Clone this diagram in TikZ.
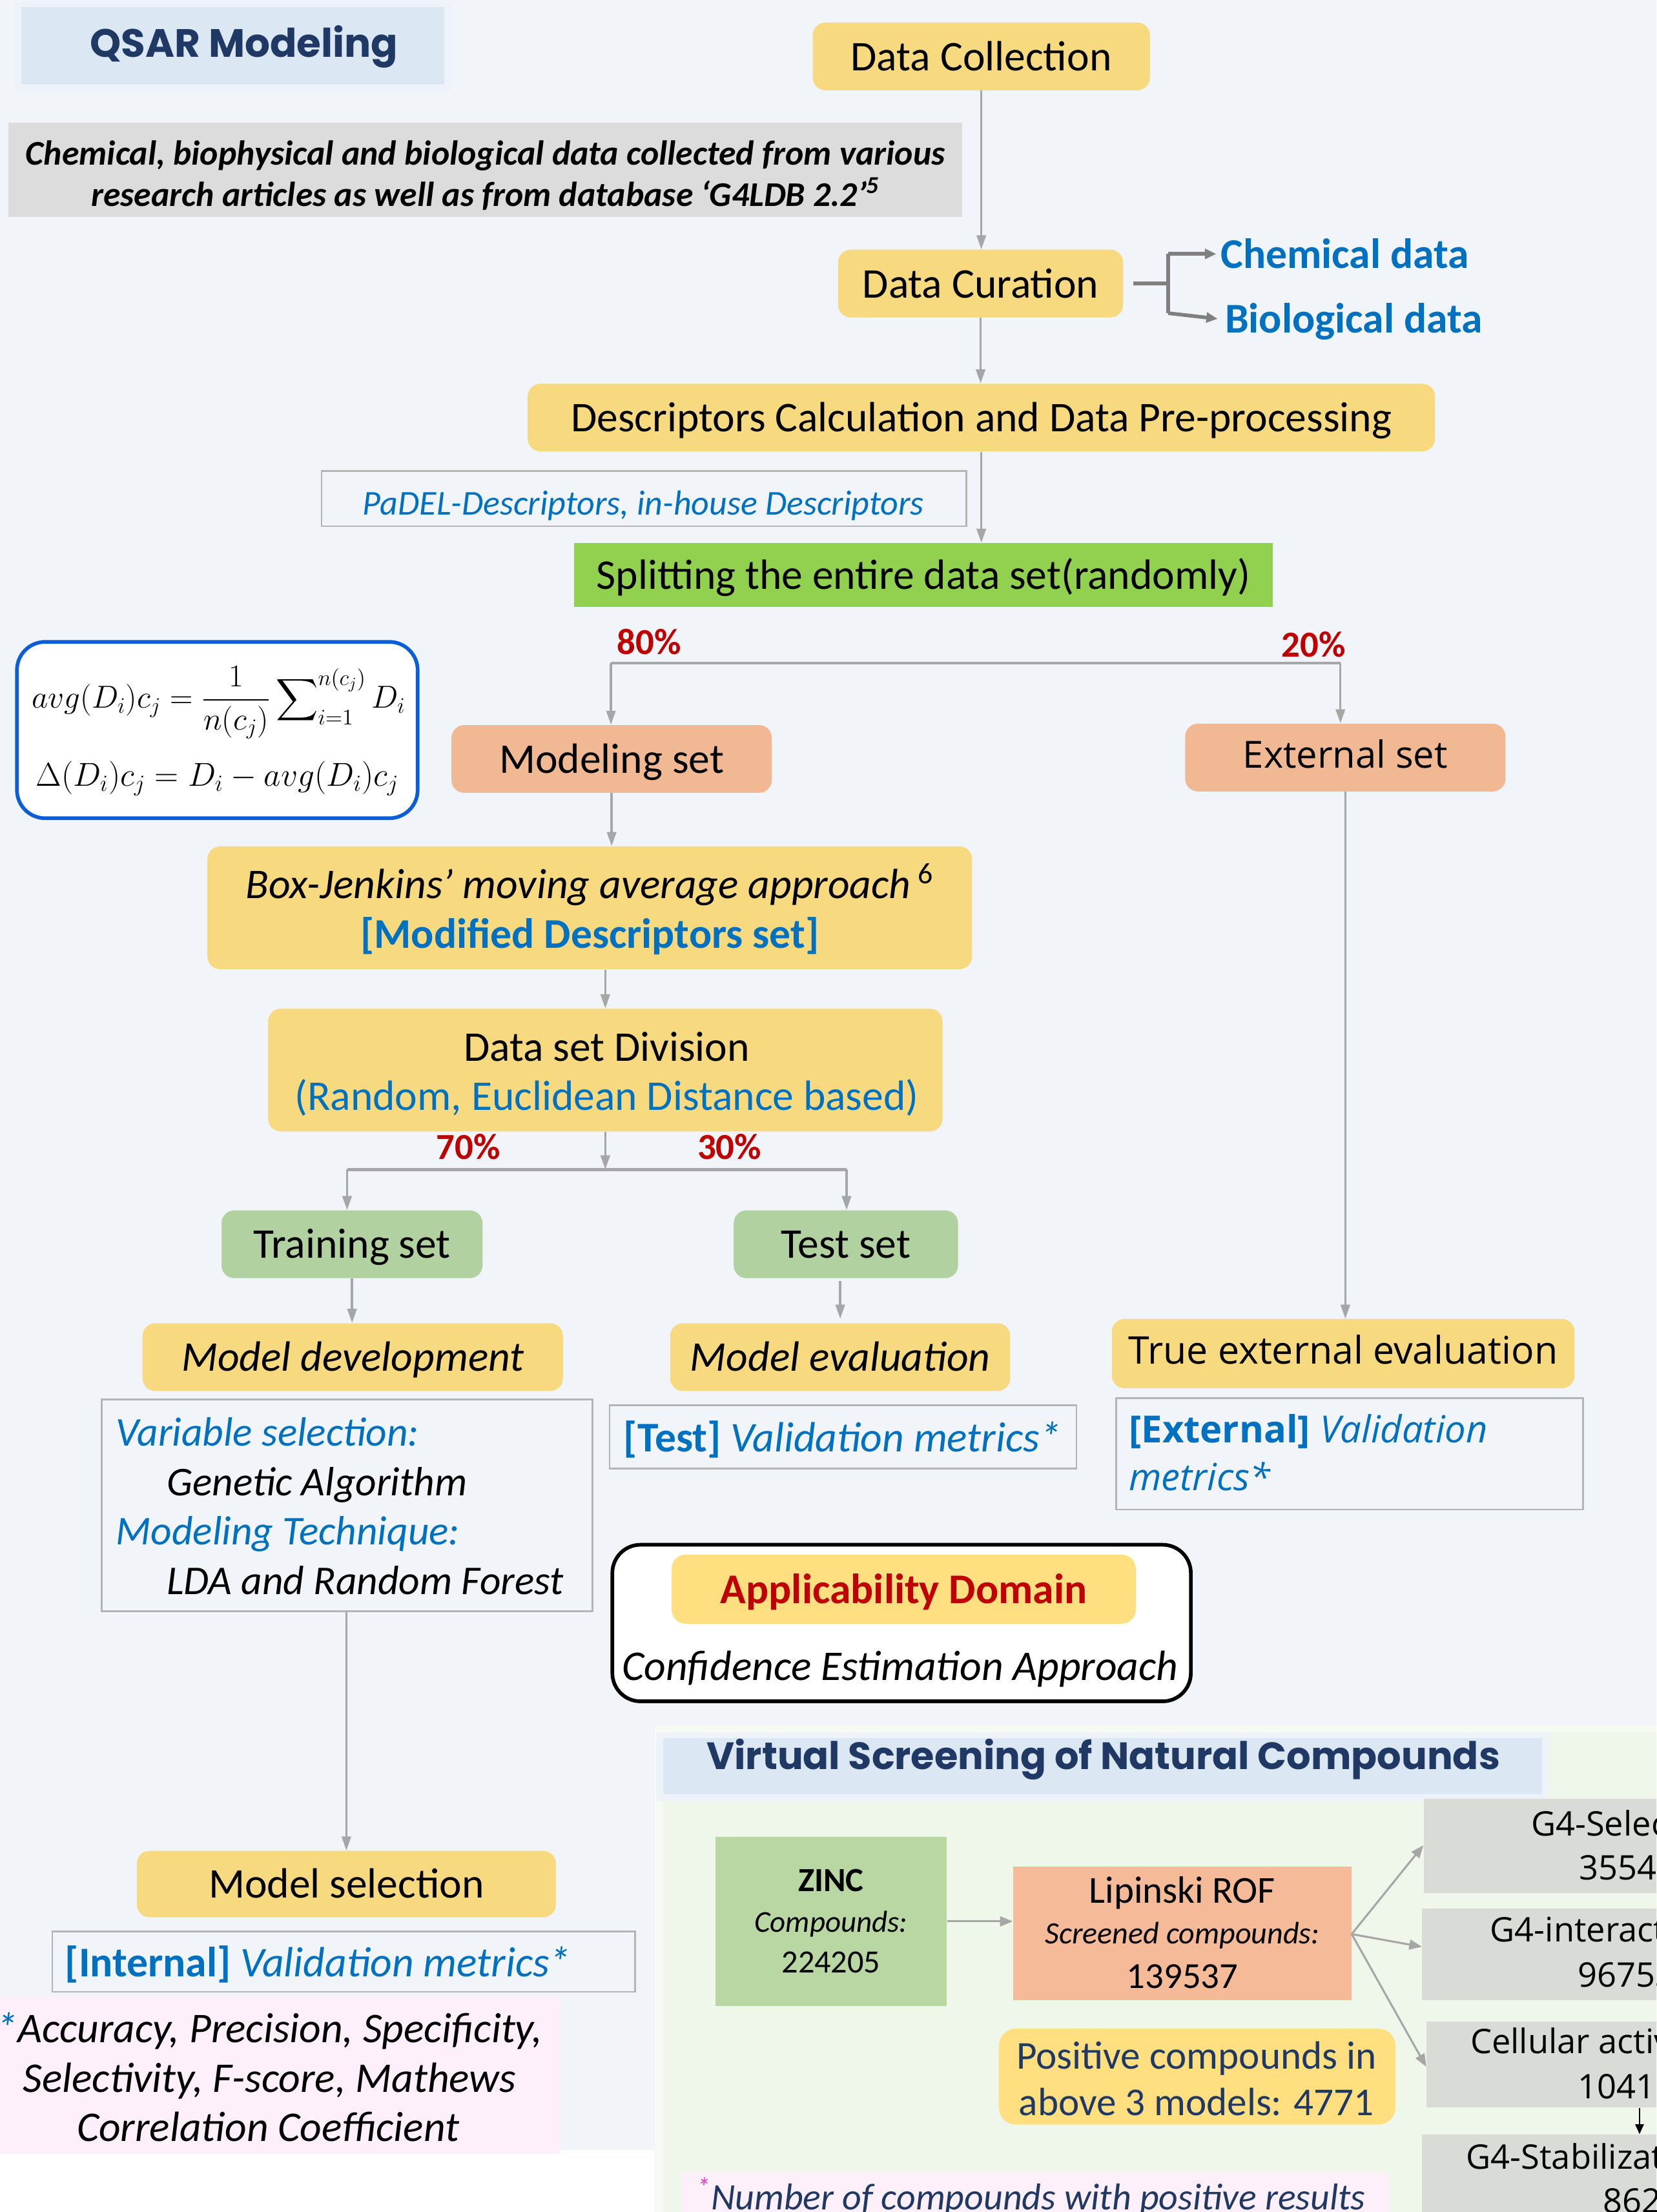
\RequirePackage{fix-cm}
\documentclass[tikz,border=0pt]{standalone}
\usepackage{exscale}
\usepackage{fontspec}
\setmainfont{Carlito}
\newfontfamily\titlefont{Poppins}
\newfontfamily\widefont{Open Sans}
\usetikzlibrary{arrows.meta,fit,calc}
\definecolor{cbg}{HTML}{F1F4F9}
\definecolor{cpanel}{HTML}{EFF6EA}
\definecolor{ctitle}{HTML}{DCE7F4}
\definecolor{cyellow}{HTML}{F7D97F}
\definecolor{cyellowb}{HTML}{FFDF80}
\definecolor{csalmon}{HTML}{F0B994}
\definecolor{csplit}{HTML}{92D050}
\definecolor{cgreen}{HTML}{B1D1A0}
\definecolor{cgreybox}{HTML}{DCDCDC}
\definecolor{cblue}{HTML}{0070C0}
\definecolor{cred}{HTML}{C00000}
\definecolor{cnavy}{HTML}{1F3864}
\definecolor{carrow}{HTML}{A6A6A6}
\definecolor{cbracket}{HTML}{7F7F7F}
\definecolor{cframe}{HTML}{B4B4B4}
\definecolor{cformula}{HTML}{0B5ED7}
\definecolor{czinc}{HTML}{B8D7A3}
\definecolor{clipin}{HTML}{F5BB98}
\definecolor{cgfour}{HTML}{D9DBD6}
\definecolor{cpink}{HTML}{FDF0FB}
\definecolor{cmagenta}{HTML}{E83BD0}
\newcommand\myfs[1]{\fontsize{#1}{#1}\selectfont}
\begin{document}
\begin{tikzpicture}[x=1pt,y=-1pt,
  every node/.style={inner sep=0pt},
  area/.style={fit={#1}, inner sep=0pt},
  ybox/.style={fill=cyellow, rounded corners=9pt},
  obox/.style={fill=csalmon, rounded corners=9pt},
  gbox/.style={fill=cgreen, rounded corners=9pt},
  frame/.style={draw=cframe, line width=1.2pt},
  hd/.style={text height=23pt, text depth=3pt},
  txt/.style={font=\myfs{30}, text=black, hd},
  itx/.style={font=\itshape\myfs{30}, text=black, hd},
  btx/.style={font=\itshape\myfs{29}, text=cblue, hd},
  wtx/.style={font=\widefont\myfs{24}, text=black, text height=18pt, text depth=3pt},
  pct/.style={font=\bfseries\myfs{26}, text=cred},
  arr/.style={draw=carrow, line width=1.6pt, -{Triangle[length=10pt,width=6.5pt]}},
  ln/.style={draw=carrow, line width=2.2pt},
  brk/.style={draw=cbracket, line width=2.6pt},
  brka/.style={brk, -{Triangle[length=8pt,width=7pt]}},
  sarr/.style={draw=carrow, line width=1.4pt, -{Triangle[length=9pt,width=7pt]}},
]
\useasboundingbox (0,0) rectangle (1174,1568);
\clip (0,0) rectangle (1174,1568);
% backgrounds
\fill[white] (0,0) rectangle (1174,1568);
\fill[cbg] (0,0) rectangle (1174,1524);
\fill[cpanel!60] (464,1223) rectangle (1174,1568);
\fill[cpanel] (470,1228) rectangle (1174,1568);
\fill[ctitle!50] (10,1) rectangle (320,64);
\fill[ctitle] (15,5) rectangle (315,60);
\fill[ctitle!50] (465,1228) rectangle (1098,1277);
\fill[ctitle] (470,1232) rectangle (1093,1272);

% titles
\node[font=\titlefont\bfseries\myfs{28}, text=cnavy] (qsar) at (173,33) {QSAR Modeling};
\node[font=\titlefont\bfseries\myfs{27}, text=cnavy] (vstitle) at (782,1247) {Virtual Screening of Natural Compounds};

% info grey box
\node[area={(6,87) (682,154)}, fill=cgreybox] (info) {};
\node[font=\bfseries\itshape\myfs{24.6}, hd] (info1) at (344,107) {Chemical, biophysical and biological data collected from various};
\node[font=\bfseries\itshape\myfs{24.6}, hd] (info2) at (344,136) {research articles as well as from database ‘G4LDB 2.2’\textsuperscript{5}};

% main flow
\node[area={(576,16) (815,64)}, ybox] (dcol) {};
\node[txt] (dcolt) at (dcol) {Data Collection};
\node[area={(594,177) (796,225)}, ybox] (dcur) {};
\node[txt] (dcurt) at (dcur) {Data Curation};
\node[anchor=west, font=\bfseries\myfs{30}, text=cblue, hd] (chem) at (865,180) {Chemical data};
\node[anchor=west, font=\bfseries\myfs{30}, text=cblue, hd] (bio) at (868,226) {Biological data};
\node[area={(374,272) (1017,320)}, ybox] (desc) {};
\node[txt] (desct) at (desc) {Descriptors Calculation and Data Pre-processing};
\node[area={(228,334) (685,373)}, frame] (padelbox) {};
\node[font=\itshape\myfs{24.7}, text=cblue, hd] (padel) at (456,355) {PaDEL-Descriptors, in-house Descriptors};
\node[area={(407,385) (902,430)}, fill=csplit] (split) {};
\node[txt] (splitt) at (split) {Splitting the entire data set(randomly)};
\node[pct] (p80) at (460,455) {80\%};
\node[pct] (p20) at (931,457) {20\%};
\coordinate (sl) at (433,470);
\coordinate (sr) at (950,470);

\node[area={(320,514) (547,562)}, obox] (modset) {};
\node[txt] (modsett) at (modset) {Modeling set};
\node[area={(840,513) (1067,561)}, obox] (extset) {};
\node[wtx, font=\widefont\myfs{26.5}] (extsett) at (extset) {External set};

% formula
\node[area={(12,455) (296,580)}, draw=cformula, line width=2.6pt, fill=white, rounded corners=20pt] (fbox) {};
\node[font=\myfs{22.5}] (f1) at (155,498) {$\displaystyle avg(D_i)c_j=\frac{1}{n(c_j)}\sum\nolimits_{i=1}^{n(c_j)}D_i$};
\node[font=\myfs{23.5}] (f2) at (154,552) {$\Delta(D_i)c_j=D_i-avg(D_i)c_j$};

\node[area={(147,600) (689,687)}, ybox] (bj) {};
\node[itx] (bj1) at (418,627) {Box-Jenkins’ moving average approach\,\textsuperscript{\upshape 6}};
\node[font=\bfseries\myfs{30}, text=cblue, hd] (bj2) at (418,662) {[Modified Descriptors set]};

\node[area={(190,715) (668,802)}, ybox] (dsd) {};
\node[txt] (dsd1) at (430,742) {Data set Division};
\node[font=\myfs{30}, text=cblue, hd] (dsd2) at (430,777) {(Random, Euclidean Distance based)};
\node[pct] (p70) at (332,813) {70\%};
\node[pct] (p30) at (517,813) {30\%};
\coordinate (tl) at (246,829);
\coordinate (tr) at (600,829);

\node[area={(157,858) (342,906)}, gbox] (train) {};
\node[txt] (traint) at (train) {Training set};
\node[area={(520,858) (679,906)}, gbox] (test) {};
\node[txt] (testt) at (test) {Test set};
\node[area={(101,938) (399,986)}, ybox] (mdev) {};
\node[itx] (mdevt) at (mdev) {Model development};
\node[area={(475,938) (716,986)}, ybox] (meval) {};
\node[itx] (mevalt) at (meval) {Model evaluation};
\node[area={(788,935) (1116,984)}, ybox] (trueext) {};
\node[wtx, font=\widefont\myfs{27}] (trueextt) at (trueext) {True external evaluation};

% variable selection box
\node[area={(72,992) (420,1142)}, frame] (varbox) {};
\node[anchor=west, btx] (vs1) at (82,1015) {Variable selection:};
\node[anchor=west, itx, font=\itshape\myfs{29}] (vs2) at (118,1050) {Genetic Algorithm};
\node[anchor=west, btx] (vs3) at (82,1085) {Modeling Technique:};
\node[anchor=west, itx, font=\itshape\myfs{29}] (vs4) at (118,1120) {LDA and Random Forest};

% test metrics
\node[area={(432,996) (763,1041)}, frame] (testbox) {};
\node[font=\myfs{30}, text=cblue, hd] (testm) at (597,1019) {\textbf{[Test]} \textit{Validation metrics*}};
% external metrics
\node[area={(791,991) (1122,1070)}, frame] (extbox) {};
\node[anchor=west, font=\widefont\myfs{26.5}, text=cblue, text height=20pt, text depth=3pt] (extm1) at (800,1014) {\textbf{[External]} \textit{Validation}};
\node[anchor=west, font=\widefont\itshape\myfs{26.5}, text=cblue, text height=20pt, text depth=3pt] (extm2) at (800,1048) {metrics*};

% applicability domain
\node[area={(434,1095) (844,1206)}, draw=black, line width=2.6pt, fill=white, rounded corners=20pt] (adbox) {};
\node[area={(476,1102) (805,1151)}, fill=cyellowb, rounded corners=10pt] (ad) {};
\node[font=\bfseries\myfs{30}, text=cred, hd] (adt) at (ad) {Applicability Domain};
\node[itx] (conf) at (638,1181) {Confidence Estimation Approach};

% model selection
\node[area={(97,1312) (394,1359)}, ybox] (msel) {};
\node[txt] (mselt) at (msel) {Model selection};
\node[area={(37,1369) (450,1412)}, frame] (intbox) {};
\node[anchor=west, font=\myfs{30}, text=cblue, hd] (intm) at (46,1391) {\textbf{[Internal]} \textit{Validation metrics*}};
\node[area={(0,1415) (397,1527)}, fill=cpink] (pinkbox) {};
\node[itx] (m1) at (191,1438) {\textcolor{cblue}{*}Accuracy, Precision, Specificity,};
\node[itx] (m2) at (191,1473) {Selectivity, F-score, Mathews};
\node[itx] (m3) at (190,1508) {Correlation Coefficient};

% virtual screening
\node[area={(507,1302) (671,1422)}, fill=czinc] (zinc) {};
\node[font=\bfseries\myfs{24}] (zinc1) at (589,1333) {ZINC};
\node[font=\itshape\myfs{21.5}] (zinc2) at (589,1364) {Compounds:};
\node[font=\myfs{23}] (zinc3) at (589,1391) {224205};
\node[area={(718,1323) (958,1418)}, fill=clipin] (lip) {};
\node[font=\myfs{27}] (lip1) at (838,1342) {Lipinski ROF};
\node[font=\itshape\myfs{22}] (lip2) at (838,1372) {Screened compounds:};
\node[font=\myfs{26}] (lip3) at (838,1401) {139537};

\node[area={(1009,1275) (1200,1342)}, fill=cgfour] (ga) {};
\node[anchor=west, wtx] (ga1) at (1085,1294) {G4-Selectivity};
\node[anchor=west, wtx] (ga2) at (1119,1325) {35545};
\node[area={(1008,1353) (1200,1418)}, fill=cgfour] (gb) {};
\node[anchor=west, wtx] (gb1) at (1056,1369) {G4-interaction};
\node[anchor=west, wtx] (gb2) at (1118,1401) {96753};
\node[area={(1011,1433) (1200,1494)}, fill=cgfour] (gc) {};
\node[anchor=west, wtx] (gc1) at (1042,1448) {Cellular activity};
\node[anchor=west, wtx] (gc2) at (1118,1480) {10411};
\node[area={(1008,1513) (1200,1600)}, fill=cgfour] (gd) {};
\node[anchor=west, wtx] (gd1) at (1039,1530) {G4-Stabilization};
\node[anchor=west, wtx] (gd2) at (1136,1561) {8621};

\node[area={(708,1438) (989,1506)}, fill=cyellowb, rounded corners=12pt] (pos) {};
\node[font=\myfs{28}, text=cnavy] (pos1) at (848,1459) {Positive compounds in};
\node[font=\myfs{28}, text=cnavy] (pos2) at (848,1490) {above 3 models: 4771};
\node[area={(483,1540) (984,1580)}, fill=cpink] (foot) {};
\node[anchor=west, font=\itshape\myfs{26.5}, text=cnavy] (foott) at (494,1557) {\textcolor{cmagenta}{\textsuperscript{*}}Number of compounds with positive results};

% connectors
\draw[arr] (dcol.south) -- (dcol.south |- dcur.north);
\draw[arr] (dcur.south) -- (dcur.south |- desc.north);
\coordinate (bk) at (828,201);
\coordinate (bkt) at (828,180);
\coordinate (bkb) at (828,222);
\draw[brk] ($(dcur.east)+(7,0)$) -- (bk);
\draw[brk] (bkt) -- (bkb);
\draw[brka] (bkt) -- ($(chem.west)+(-3,0)$);
\draw[brka] (bkb) -- ($(bio.west)+(-5,0)$);
\draw[arr] (desc.south) -- (desc.south |- split.north);
\draw[ln] (sl) -- (sr);
\draw[arr] (sl) -- (sl |- modset.north);
\draw[arr] (sr) -- (sr |- extset.north);
\draw[arr] (modset.south) -- (modset.south |- bj.north);
\draw[arr] (dsd.north |- bj.south) -- (dsd.north);
\draw[arr] (dsd.south) -- (dsd.south |- tl);
\draw[ln] (tl) -- (tr);
\draw[arr] (tl) -- (tl |- train.north);
\draw[arr] (tr) -- (tr |- test.north);
\draw[arr] (train.south) -- (train.south |- mdev.north);
\draw[arr] ($(test.south)+(-4,2)$) -- ($(test.south |- meval.north)+(-4,-3)$);
\draw[arr] (extset.south) -- (extset.south |- trueext.north);
\draw[arr] (varbox.south -| msel.north) -- (msel.north);
\draw[sarr] (zinc.east |- 0,1362) -- (lip.west |- 0,1362);
\coordinate (lo) at (958,1371);
\draw[sarr] (lo) -- (ga.west |- 0,1308);
\draw[sarr] (lo) -- (gb.west |- 0,1380);
\draw[sarr] (lo) -- (gc.west |- 0,1465);
\draw[draw=black, line width=1pt, -{Triangle[length=7pt,width=6pt]}] (gc.south -| 1162,0) -- (gd.north -| 1162,0);
\end{tikzpicture}
\end{document}
